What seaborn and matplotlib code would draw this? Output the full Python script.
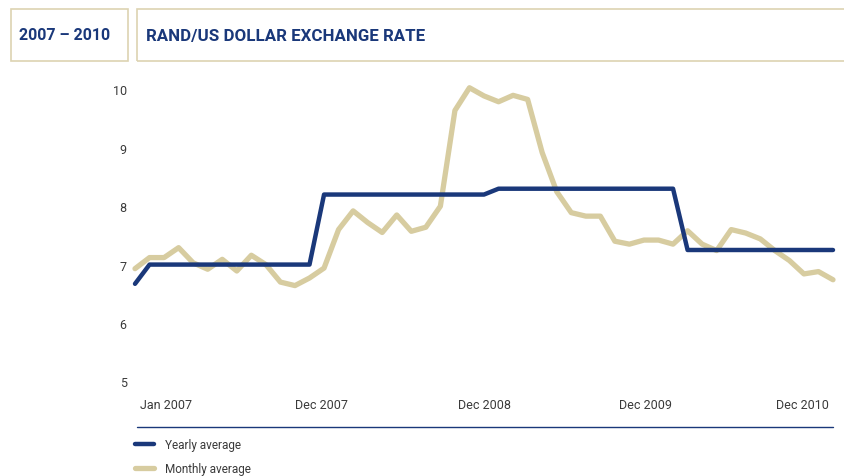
import numpy as np
import matplotlib
matplotlib.use('Agg')
import matplotlib.pyplot as plt
import seaborn as sns
from matplotlib.patches import Rectangle
from matplotlib.lines import Line2D

# valores (rand por dolar, un punto por mes)
monthly = [6.93, 7.12, 7.12, 7.29, 7.03, 6.92, 7.09, 6.89, 7.16, 7.00,
           6.70, 6.64, 6.77, 6.94, 7.60, 7.92, 7.72, 7.55, 7.85, 7.57,
           7.64, 8.00, 9.64, 10.03, 9.89, 9.79, 9.90, 9.83, 8.92, 8.25,
           7.89, 7.83, 7.83, 7.40, 7.35, 7.42, 7.42, 7.35, 7.58, 7.35,
           7.24, 7.60, 7.54, 7.44, 7.24, 7.07, 6.84, 6.88, 6.74]
yearly = [6.67, 7.0, 7.0, 7.0, 7.0, 7.0, 7.0, 7.0, 7.0, 7.0,
          7.0, 7.0, 7.0, 8.2, 8.2, 8.2, 8.2, 8.2, 8.2, 8.2,
          8.2, 8.2, 8.2, 8.2, 8.2, 8.3, 8.3, 8.3, 8.3, 8.3,
          8.3, 8.3, 8.3, 8.3, 8.3, 8.3, 8.3, 8.3, 7.25, 7.25,
          7.25, 7.25, 7.25, 7.25, 7.25, 7.25, 7.25, 7.25, 7.25]
months = np.arange(len(monthly))

tick_labels = ['Jan 2007', 'Dec 2007', 'Dec 2008', 'Dec 2009', 'Dec 2010']
tick_pos = [2.1, 12.8, 24.0, 35.1, 45.9]
y_ticks = [5, 6, 7, 8, 9, 10]

navy = '#1a387a'
beige = '#d7cca0'
gris = '#3a3a3a'

sns.set_style('white')
plt.rcParams['font.family'] = ['Roboto', 'DejaVu Sans']

fig = plt.figure(figsize=(8.44, 4.77), dpi=100)
ax = fig.add_axes([135/844, 94.7/477, 698/844, 291.8/477])

sns.lineplot(x=months, y=monthly, ax=ax, color=beige, linewidth=3.8,
             solid_capstyle='round', label='Monthly average')
sns.lineplot(x=months, y=yearly, ax=ax, color=navy, linewidth=3.2,
             solid_capstyle='round', label='Yearly average')
for ln in ax.lines:
    ln.set_clip_on(False)

ax.set_xlim(0, 48)
ax.set_ylim(5, 10)
ax.set_yticks(y_ticks)
ax.set_xticks(tick_pos)
ax.set_xticklabels(tick_labels)
ax.tick_params(axis='both', length=0, labelsize=9, colors=gris)
ax.tick_params(axis='y', pad=6)
ax.tick_params(axis='x', pad=12)
sns.despine(ax=ax, left=True, bottom=True)
ax.set_xlabel('')
ax.set_ylabel('')

# leyenda abajo, azul primero
h, l = ax.get_legend_handles_labels()
ax.get_legend().remove()
fig.legend([h[1], h[0]], [l[1], l[0]], loc='upper left',
           bbox_to_anchor=(135/844, 1 - 439/477), frameon=False,
           fontsize=8.5, handlelength=1.6, handletextpad=0.9,
           labelspacing=0.95, borderpad=0, borderaxespad=0,
           labelcolor=gris)

# linea separadora
fig.add_artist(Line2D([137/844, 833/844], [1 - 428/477, 1 - 428/477],
                      color=navy, linewidth=1))

# cajas de cabecera
fig.add_artist(Rectangle((10.7/844, 1 - 62/477), 117.3/844, 52/477,
                         fill=False, edgecolor='#ddd3b2', linewidth=1.2))
fig.add_artist(Rectangle((137/844, 1 - 62/477), 720/844, 52/477,
                         fill=False, edgecolor='#ddd3b2', linewidth=1.2))
fig.text(19/844, 1 - 36/477, '2007 – 2010', color=navy, fontsize=11.5,
         fontweight='bold', va='center', ha='left')
fig.text(146/844, 1 - 36/477, 'RAND/US DOLLAR EXCHANGE RATE', color=navy,
         fontsize=12.2, fontweight='bold', va='center', ha='left')

fig.savefig('out.png', dpi=100)
